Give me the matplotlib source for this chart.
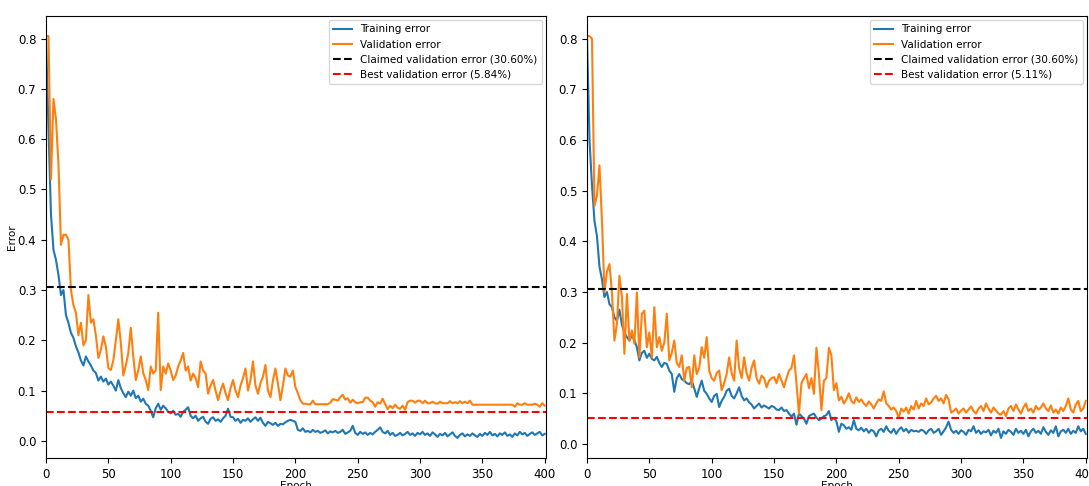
import numpy as np
import matplotlib
matplotlib.use("Agg")
import matplotlib.pyplot as plt

# Epochs sampled every 2 epochs
epochs = np.arange(0, 401, 2)

# Left run
train_left = [
    0.80, 0.62, 0.45, 0.38, 0.36, 0.33, 0.29, 0.30, 0.25, 0.235, 0.215,
    0.205, 0.188, 0.176, 0.160, 0.150, 0.168, 0.158, 0.150, 0.140, 0.135,
    0.120, 0.128, 0.118, 0.124, 0.112, 0.118, 0.110, 0.100, 0.121, 0.105,
    0.095, 0.087, 0.098, 0.090, 0.100, 0.085, 0.090, 0.078, 0.084, 0.074,
    0.070, 0.060, 0.047, 0.065, 0.074, 0.062, 0.070, 0.065, 0.058, 0.055,
    0.060, 0.052, 0.054, 0.048, 0.058, 0.062, 0.067, 0.050, 0.045, 0.050,
    0.040, 0.045, 0.048, 0.038, 0.034, 0.044, 0.047, 0.040, 0.043, 0.038,
    0.045, 0.050, 0.064, 0.048, 0.047, 0.040, 0.044, 0.036, 0.042, 0.040,
    0.045, 0.038, 0.043, 0.047, 0.040, 0.046, 0.036, 0.030, 0.038, 0.035,
    0.032, 0.036, 0.030, 0.034, 0.033, 0.037, 0.040, 0.042, 0.040, 0.038,
    0.022, 0.020, 0.025, 0.018, 0.020, 0.017, 0.022, 0.018, 0.020, 0.016,
    0.018, 0.021, 0.015, 0.019, 0.017, 0.020, 0.016, 0.018, 0.022, 0.014,
    0.017, 0.020, 0.030, 0.016, 0.012, 0.018, 0.014, 0.017, 0.012, 0.016,
    0.013, 0.018, 0.022, 0.027, 0.018, 0.015, 0.020, 0.012, 0.016, 0.010,
    0.012, 0.016, 0.011, 0.014, 0.018, 0.012, 0.015, 0.010, 0.016, 0.013,
    0.018, 0.012, 0.015, 0.010, 0.017, 0.013, 0.008, 0.014, 0.011, 0.016,
    0.009, 0.013, 0.017, 0.010, 0.006, 0.012, 0.015, 0.009, 0.013, 0.010,
    0.015, 0.011, 0.008, 0.014, 0.010, 0.016, 0.012, 0.018, 0.011, 0.014,
    0.009, 0.015, 0.012, 0.017, 0.010, 0.013, 0.008, 0.015, 0.011, 0.018,
    0.013, 0.016, 0.010, 0.014, 0.017, 0.012, 0.015, 0.018, 0.011, 0.014,
]
val_left = [
    0.805, 0.805, 0.52, 0.68, 0.64, 0.55, 0.39, 0.41, 0.41, 0.40, 0.30,
    0.27, 0.255, 0.21, 0.235, 0.19, 0.20, 0.29, 0.235, 0.242, 0.21,
    0.165, 0.181, 0.208, 0.188, 0.145, 0.141, 0.16, 0.20, 0.242, 0.195,
    0.13, 0.15, 0.175, 0.225, 0.168, 0.121, 0.14, 0.168, 0.135, 0.121,
    0.101, 0.148, 0.134, 0.14, 0.255, 0.101, 0.148, 0.134, 0.154, 0.14,
    0.121, 0.13, 0.148, 0.16, 0.175, 0.14, 0.148, 0.12, 0.134, 0.125,
    0.107, 0.158, 0.14, 0.134, 0.094, 0.11, 0.121, 0.10, 0.081, 0.10,
    0.114, 0.095, 0.081, 0.105, 0.121, 0.10, 0.087, 0.11, 0.125, 0.144,
    0.10, 0.121, 0.158, 0.11, 0.094, 0.115, 0.128, 0.151, 0.10, 0.087,
    0.12, 0.144, 0.114, 0.081, 0.11, 0.144, 0.13, 0.128, 0.14, 0.107,
    0.095, 0.081, 0.074, 0.074, 0.073, 0.073, 0.080, 0.073, 0.073, 0.073,
    0.073, 0.073, 0.073, 0.076, 0.083, 0.082, 0.080, 0.087, 0.092, 0.082,
    0.085, 0.076, 0.082, 0.077, 0.075, 0.077, 0.077, 0.086, 0.086, 0.080,
    0.077, 0.068, 0.077, 0.074, 0.084, 0.073, 0.063, 0.070, 0.065, 0.072,
    0.066, 0.064, 0.070, 0.062, 0.077, 0.080, 0.080, 0.076, 0.080, 0.080,
    0.075, 0.080, 0.075, 0.075, 0.078, 0.075, 0.074, 0.078, 0.075, 0.075,
    0.075, 0.079, 0.075, 0.077, 0.075, 0.079, 0.075, 0.078, 0.075, 0.080,
    0.072, 0.072, 0.072, 0.072, 0.072, 0.072, 0.072, 0.072, 0.072, 0.072,
    0.072, 0.072, 0.072, 0.072, 0.072, 0.072, 0.072, 0.068, 0.075, 0.072,
    0.072, 0.075, 0.072, 0.072, 0.072, 0.074, 0.072, 0.068, 0.075, 0.070,
]

# Right run
train_right = [
    0.80, 0.60, 0.51, 0.44, 0.41, 0.35, 0.325, 0.29, 0.30, 0.276, 0.27,
    0.25, 0.243, 0.265, 0.235, 0.22, 0.211, 0.204, 0.215, 0.205, 0.191,
    0.165, 0.18, 0.184, 0.17, 0.178, 0.168, 0.165, 0.172, 0.16, 0.152,
    0.16, 0.158, 0.145, 0.138, 0.103, 0.13, 0.138, 0.128, 0.125, 0.12,
    0.118, 0.125, 0.11, 0.093, 0.11, 0.125, 0.105, 0.099, 0.09, 0.083,
    0.095, 0.099, 0.073, 0.085, 0.093, 0.105, 0.109, 0.095, 0.09, 0.10,
    0.112, 0.095, 0.086, 0.09, 0.082, 0.078, 0.07, 0.075, 0.08, 0.072,
    0.076, 0.073, 0.07, 0.075, 0.073, 0.068, 0.067, 0.072, 0.065, 0.067,
    0.06, 0.054, 0.06, 0.038, 0.06, 0.055, 0.05, 0.04, 0.055, 0.058,
    0.06, 0.052, 0.047, 0.05, 0.055, 0.057, 0.065, 0.047, 0.052, 0.045,
    0.024, 0.04, 0.037, 0.03, 0.033, 0.028, 0.047, 0.03, 0.027, 0.032,
    0.025, 0.03, 0.022, 0.028, 0.025, 0.015, 0.027, 0.03, 0.024, 0.035,
    0.026, 0.022, 0.03, 0.02, 0.028, 0.033, 0.025, 0.03, 0.022, 0.028,
    0.025, 0.026, 0.024, 0.028, 0.026, 0.02, 0.027, 0.03, 0.022, 0.025,
    0.03, 0.018, 0.025, 0.033, 0.044, 0.028, 0.022, 0.026, 0.02, 0.027,
    0.024, 0.018, 0.028, 0.025, 0.035, 0.022, 0.027, 0.02, 0.025, 0.023,
    0.028, 0.017, 0.026, 0.022, 0.03, 0.012, 0.025, 0.02, 0.028, 0.024,
    0.018, 0.03, 0.022, 0.026, 0.02, 0.028, 0.015, 0.025, 0.03, 0.022,
    0.026, 0.02, 0.033, 0.024, 0.018, 0.027, 0.022, 0.035, 0.015, 0.025,
    0.028, 0.022, 0.03, 0.02, 0.026, 0.022, 0.035, 0.025, 0.03, 0.02,
]
val_right = [
    0.805, 0.805, 0.80, 0.47, 0.49, 0.55, 0.44, 0.30, 0.34, 0.355, 0.30,
    0.204, 0.237, 0.332, 0.29, 0.178, 0.296, 0.204, 0.224, 0.198, 0.299,
    0.171, 0.257, 0.263, 0.191, 0.22, 0.171, 0.27, 0.191, 0.211, 0.184,
    0.20, 0.257, 0.165, 0.18, 0.204, 0.16, 0.152, 0.175, 0.125, 0.15,
    0.152, 0.112, 0.175, 0.138, 0.15, 0.191, 0.17, 0.211, 0.145, 0.13,
    0.125, 0.14, 0.145, 0.106, 0.12, 0.138, 0.171, 0.14, 0.125, 0.204,
    0.15, 0.13, 0.171, 0.14, 0.125, 0.15, 0.165, 0.13, 0.119, 0.135,
    0.13, 0.112, 0.125, 0.13, 0.132, 0.12, 0.138, 0.125, 0.112, 0.13,
    0.145, 0.15, 0.175, 0.12, 0.06, 0.12, 0.13, 0.138, 0.11, 0.13,
    0.099, 0.19, 0.138, 0.067, 0.125, 0.13, 0.19, 0.175, 0.106, 0.12,
    0.086, 0.093, 0.08, 0.088, 0.10, 0.085, 0.08, 0.092, 0.083, 0.088,
    0.08, 0.075, 0.084, 0.078, 0.07, 0.08, 0.088, 0.085, 0.104, 0.08,
    0.075, 0.068, 0.072, 0.065, 0.052, 0.07, 0.064, 0.072, 0.06, 0.075,
    0.068, 0.085, 0.07, 0.08, 0.075, 0.09, 0.078, 0.082, 0.09, 0.095,
    0.085, 0.09, 0.08, 0.097, 0.088, 0.062, 0.065, 0.07, 0.06, 0.066,
    0.07, 0.062, 0.068, 0.074, 0.065, 0.06, 0.07, 0.075, 0.065, 0.08,
    0.07, 0.062, 0.072, 0.066, 0.06, 0.058, 0.065, 0.055, 0.07, 0.075,
    0.065, 0.078, 0.068, 0.06, 0.072, 0.08, 0.065, 0.07, 0.062, 0.075,
    0.068, 0.072, 0.08, 0.07, 0.065, 0.076, 0.062, 0.068, 0.06, 0.072,
    0.065, 0.075, 0.09, 0.068, 0.062, 0.078, 0.085, 0.065, 0.07, 0.085,
]

claimed = 0.306
best_left = 0.0584
best_right = 0.0511

plt.rcParams['font.size'] = 8.5

fig = plt.figure(figsize=(10.89, 4.86), dpi=100)
ax1 = fig.add_axes([46 / 1089, 28 / 486, 500 / 1089, 442 / 486])
ax2 = fig.add_axes([587 / 1089, 28 / 486, 500 / 1089, 442 / 486])

runs = [
    (ax1, train_left, val_left, best_left),
    (ax2, train_right, val_right, best_right),
]
for ax, tr, va, best in runs:
    ax.plot(epochs, tr, label='Training error')
    ax.plot(epochs, va, label='Validation error')
    ax.axhline(claimed, color='k', linestyle='--',
               label='Claimed validation error (%.2f%%)' % (claimed * 100))
    ax.axhline(best, color='r', linestyle='--',
               label='Best validation error (%.2f%%)' % (best * 100))
    ax.set_xlim(0, 401)
    ax.set_xlabel('Epoch', fontsize=7.5, labelpad=0)
    ax.legend(loc='upper right', fontsize=7.5, handlelength=1.8,
              borderaxespad=0.4, labelspacing=0.5)

ax1.set_ylabel('Error', fontsize=7.5, labelpad=0.5)

plt.savefig('out.png', dpi=100)
